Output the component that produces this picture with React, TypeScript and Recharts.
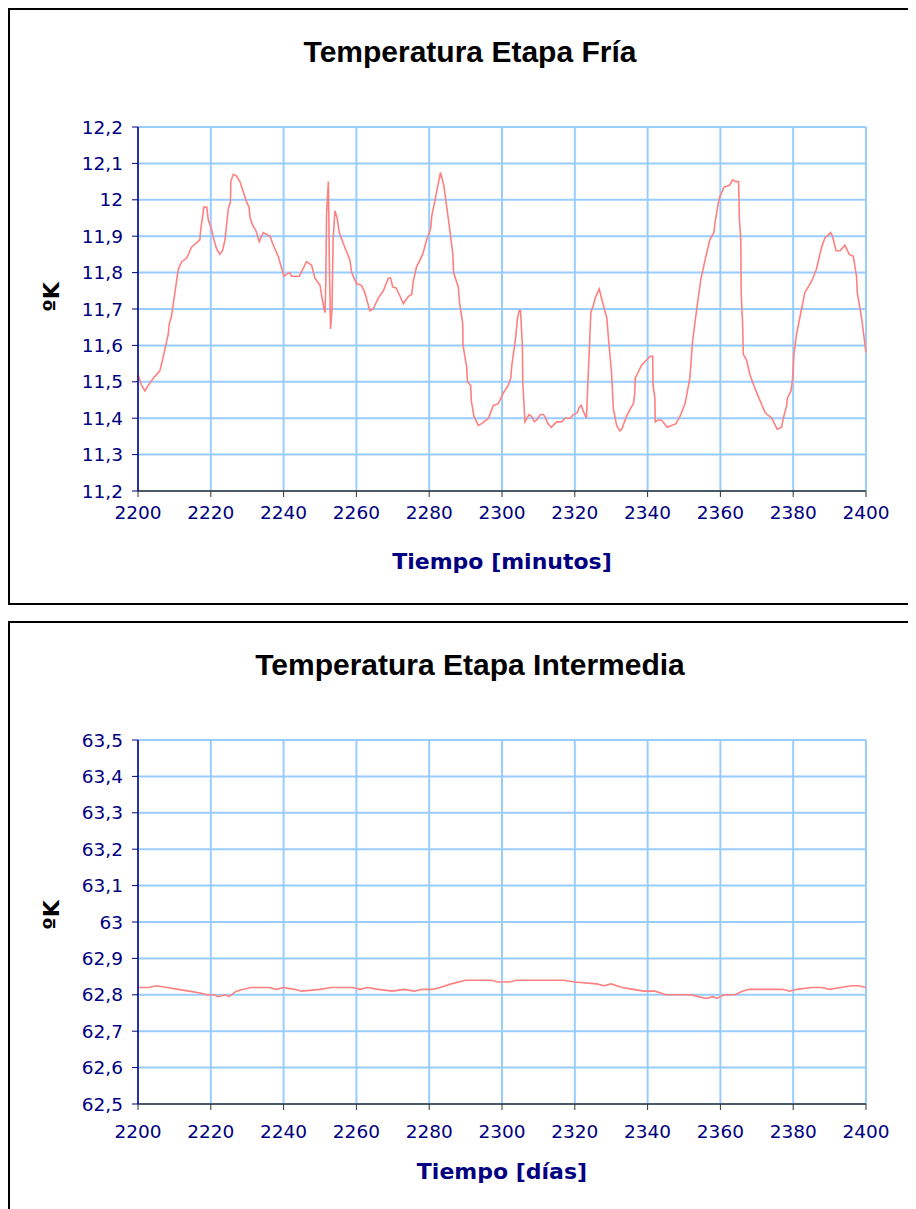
import React from 'react';
import { LineChart, Line, XAxis, YAxis, CartesianGrid } from 'recharts';

// Temperatura Etapa Fría (minutos vs ºK)
const minutosFria = [
  2200.0, 2201.0, 2201.9, 2202.8, 2204.2, 2206.0, 2206.5, 2207.4, 2208.3, 2208.6,
  2209.2, 2210.2, 2211.1, 2212.0, 2213.4, 2214.7, 2217.0, 2217.2, 2218.1, 2218.9,
  2219.3, 2220.2, 2220.6, 2221.6, 2222.5, 2223.2, 2223.9, 2224.8, 2225.4, 2225.5,
  2226.2, 2227.1, 2228.0, 2229.8, 2230.5, 2230.8, 2231.5, 2232.4, 2233.3, 2234.4,
  2236.3, 2237.0, 2238.5, 2240.1, 2240.8, 2241.6, 2242.2, 2244.3, 2246.3, 2247.7,
  2248.6, 2250.0, 2250.4, 2251.1, 2251.4, 2251.6, 2251.8, 2252.3, 2252.6, 2252.9,
  2253.3, 2253.6, 2254.1, 2254.7, 2255.3, 2256.4, 2258.2, 2258.7, 2259.6, 2260.0,
  2261.4, 2262.3, 2263.7, 2264.6, 2266.0, 2267.4, 2268.8, 2269.4, 2270.0, 2270.9,
  2272.0, 2272.9, 2274.3, 2275.2, 2275.6, 2276.5, 2278.2, 2279.3, 2280.4, 2280.7,
  2281.6, 2282.2, 2283.1, 2284.0, 2285.3, 2286.5, 2286.7, 2288.0, 2288.3, 2289.2,
  2289.3, 2290.3, 2290.5, 2291.4, 2291.6, 2292.3, 2293.5, 2294.4, 2296.3, 2297.6,
  2299.0, 2300.4, 2301.7, 2302.4, 2302.7, 2303.8, 2304.2, 2304.7, 2305.1, 2305.6,
  2305.7, 2306.3, 2307.4, 2308.1, 2308.9, 2309.5, 2310.6, 2311.4, 2312.0, 2312.6,
  2313.5, 2315.0, 2316.4, 2317.3, 2318.7, 2319.6, 2320.7, 2321.2, 2321.8, 2322.3,
  2323.2, 2323.6, 2324.0, 2324.4, 2325.1, 2325.6, 2326.7, 2327.6, 2328.8, 2329.2,
  2330.1, 2330.6, 2331.5, 2332.4, 2332.9, 2334.2, 2335.2, 2336.1, 2336.5, 2336.6,
  2338.3, 2340.7, 2341.4, 2341.5, 2342.0, 2342.1, 2342.9, 2343.8, 2345.4, 2346.6,
  2347.8, 2348.9, 2350.3, 2351.6, 2352.4, 2353.5, 2354.6, 2355.8, 2357.1, 2358.2,
  2358.5, 2359.4, 2359.9, 2361.0, 2362.5, 2363.4, 2364.3, 2365.0, 2365.2, 2365.6,
  2365.7, 2366.1, 2366.3, 2367.2, 2368.1, 2369.2, 2370.4, 2372.3, 2374.1, 2375.6,
  2376.8, 2377.3, 2378.2, 2378.4, 2379.4, 2379.8, 2380.2, 2380.9, 2381.9, 2383.2,
  2384.1, 2385.0, 2386.4, 2387.2, 2387.8, 2388.7, 2390.3, 2390.8, 2391.8, 2392.9,
  2394.2, 2395.4, 2396.5, 2397.4, 2397.6, 2398.8, 2400.0,
];
const tempFria = [
  11.52, 11.49, 11.475, 11.49, 11.51, 11.53, 11.55, 11.59, 11.63, 11.66,
  11.68, 11.75, 11.81, 11.83, 11.84, 11.87, 11.89, 11.915, 11.98, 11.98,
  11.945, 11.92, 11.9, 11.865, 11.85, 11.86, 11.89, 11.975, 11.995, 12.05,
  12.07, 12.065, 12.05, 11.995, 11.98, 11.95, 11.93, 11.915, 11.885, 11.91,
  11.9, 11.88, 11.845, 11.79, 11.795, 11.8, 11.79, 11.79, 11.83, 11.82,
  11.785, 11.765, 11.74, 11.7, 11.69, 11.78, 11.96, 12.05, 11.81, 11.645,
  11.7, 11.89, 11.97, 11.95, 11.91, 11.88, 11.835, 11.8, 11.78, 11.77,
  11.765, 11.745, 11.695, 11.7, 11.73, 11.75, 11.785, 11.785, 11.76, 11.758,
  11.735, 11.715, 11.735, 11.74, 11.775, 11.815, 11.85, 11.89, 11.92, 11.955,
  12.0, 12.03, 12.075, 12.04, 11.945, 11.85, 11.8, 11.76, 11.72, 11.66,
  11.6, 11.54, 11.5, 11.49, 11.445, 11.405, 11.38, 11.385, 11.4, 11.435,
  11.44, 11.47, 11.49, 11.51, 11.545, 11.625, 11.67, 11.695, 11.695, 11.6,
  11.5, 11.39, 11.41, 11.405, 11.39, 11.395, 11.41, 11.41, 11.4, 11.385,
  11.375, 11.39, 11.39, 11.4, 11.4, 11.41, 11.415, 11.43, 11.435, 11.42,
  11.4, 11.5, 11.59, 11.69, 11.71, 11.73, 11.755, 11.72, 11.675, 11.625,
  11.525, 11.425, 11.38, 11.365, 11.37, 11.405, 11.425, 11.44, 11.47, 11.51,
  11.545, 11.57, 11.57, 11.49, 11.455, 11.39, 11.395, 11.395, 11.375, 11.38,
  11.385, 11.405, 11.44, 11.51, 11.615, 11.7, 11.78, 11.835, 11.89, 11.91,
  11.935, 11.99, 12.01, 12.035, 12.04, 12.055, 12.05, 12.05, 11.95, 11.89,
  11.745, 11.66, 11.575, 11.56, 11.52, 11.49, 11.46, 11.415, 11.4, 11.37,
  11.375, 11.4, 11.435, 11.455, 11.475, 11.505, 11.575, 11.63, 11.68, 11.745,
  11.76, 11.775, 11.81, 11.845, 11.87, 11.895, 11.91, 11.9, 11.86, 11.86,
  11.875, 11.85, 11.845, 11.79, 11.745, 11.675, 11.58,
];

// Temperatura Etapa Intermedia (días vs ºK)
const diasInter = [
  2200, 2203, 2205, 2208, 2211, 2214, 2217, 2219, 2221, 2222,
  2224, 2225, 2227, 2229, 2231, 2236, 2238, 2240, 2243, 2245,
  2250, 2253, 2259, 2261, 2263, 2266, 2270, 2273, 2276, 2278,
  2281, 2283, 2286, 2290, 2297, 2299, 2302, 2304, 2317, 2320,
  2326, 2328, 2330, 2333, 2336, 2339, 2342, 2345, 2352, 2354,
  2356, 2358, 2359, 2361, 2364, 2366, 2368, 2377, 2379, 2381,
  2385, 2388, 2390, 2393, 2396, 2398, 2400,
];
const tempInter = [
  62.82, 62.82, 62.825, 62.82, 62.815, 62.81, 62.805, 62.8, 62.8, 62.795,
  62.8, 62.795, 62.81, 62.815, 62.82, 62.82, 62.815, 62.82, 62.815, 62.81,
  62.815, 62.82, 62.82, 62.815, 62.82, 62.815, 62.81, 62.815, 62.81, 62.815,
  62.815, 62.82, 62.83, 62.84, 62.84, 62.835, 62.835, 62.84, 62.84, 62.835,
  62.83, 62.825, 62.83, 62.82, 62.815, 62.81, 62.81, 62.8, 62.8, 62.795,
  62.79, 62.795, 62.79, 62.8, 62.8, 62.81, 62.815, 62.815, 62.81, 62.815,
  62.82, 62.82, 62.815, 62.82, 62.825, 62.825, 62.82,
];

const xTicks = [2200, 2220, 2240, 2260, 2280, 2300, 2320, 2340, 2360, 2380, 2400];
const yTicksFria = [11.2, 11.3, 11.4, 11.5, 11.6, 11.7, 11.8, 11.9, 12.0, 12.1, 12.2];
const yTicksInter = [62.5, 62.6, 62.7, 62.8, 62.9, 63.0, 63.1, 63.2, 63.3, 63.4, 63.5];

const NAVY = '#000080';

const fmtComma = (v: number) => String(Math.round(v * 10) / 10).replace('.', ',');

interface PanelProps {
  top: number;
  title: string;
  xTitle: string;
  xs: number[];
  ys: number[];
  yTicks: number[];
  tickGap: number;
  xTitleTop: number;
  kTop: number;
}

function Panel({ top, title, xTitle, xs, ys, yTicks, tickGap, xTitleTop, kTop }: PanelProps) {
  const data = xs.map((x, i) => ({ x, y: ys[i] }));
  const tickStyle = { fill: NAVY, fontSize: 18.5, fontFamily: '"DejaVu Sans", sans-serif' };

  return (
    <div
      style={{
        position: 'absolute',
        left: 0,
        top,
        width: 924,
        height: 597,
        border: '2px solid #000',
        boxSizing: 'border-box',
        background: '#fff',
      }}
    >
      <div
        style={{
          position: 'absolute',
          left: 0,
          top: 25,
          width: '100%',
          textAlign: 'center',
          fontFamily: '"Liberation Sans", Arial, sans-serif',
          fontWeight: 'bold',
          fontSize: 30,
          lineHeight: '34px',
          color: '#000',
        }}
      >
        {title}
      </div>
      <div
        style={{
          position: 'absolute',
          left: 12,
          top: kTop - 15,
          width: 60,
          height: 30,
          lineHeight: '30px',
          textAlign: 'center',
          transform: 'rotate(-90deg)',
          fontFamily: '"DejaVu Sans", sans-serif',
          fontWeight: 'bold',
          fontSize: 22,
          color: '#000',
        }}
      >
        ºK
      </div>
      <div
        style={{
          position: 'absolute',
          left: 128,
          top: xTitleTop,
          width: 728,
          textAlign: 'center',
          fontFamily: '"DejaVu Sans", sans-serif',
          fontWeight: 'bold',
          fontSize: 22,
          lineHeight: '28px',
          color: NAVY,
        }}
      >
        {xTitle}
      </div>
      <LineChart
        width={920}
        height={593}
        data={data}
        margin={{ top: 117, right: 64, left: 48, bottom: 52 }}
      >
        <CartesianGrid stroke="#99CCFF" strokeWidth={2} />
        <XAxis
          dataKey="x"
          type="number"
          domain={[2200, 2400]}
          ticks={xTicks}
          interval={0}
          height={60}
          tick={tickStyle}
          tickSize={6}
          tickMargin={tickGap}
          axisLine={{ stroke: '#333', strokeWidth: 1.5 }}
          tickLine={{ stroke: '#333' }}
        />
        <YAxis
          type="number"
          domain={[yTicks[0], yTicks[yTicks.length - 1]]}
          ticks={yTicks}
          interval={0}
          width={80}
          tick={tickStyle}
          tickFormatter={fmtComma}
          tickSize={6}
          tickMargin={9}
          axisLine={{ stroke: NAVY, strokeWidth: 1.5 }}
          tickLine={{ stroke: NAVY }}
        />
        <Line
          type="linear"
          dataKey="y"
          stroke="#FF8080"
          strokeWidth={1.6}
          dot={false}
          isAnimationActive={false}
        />
      </LineChart>
    </div>
  );
}

export default function App() {
  return (
    <>
      <style>{'html, body { overflow: hidden; }'}</style>
      <div style={{ position: 'relative', width: 908, height: 1201, overflow: 'hidden' }}>
        <Panel
          top={0}
          title="Temperatura Etapa Fría"
          xTitle="Tiempo [minutos]"
          xs={minutosFria}
          ys={tempFria}
          yTicks={yTicksFria}
          tickGap={9}
          xTitleTop={538}
          kTop={287}
        />
        <Panel
          top={613}
          title="Temperatura Etapa Intermedia"
          xTitle="Tiempo [días]"
          xs={diasInter}
          ys={tempInter}
          yTicks={yTicksInter}
          tickGap={15}
          xTitleTop={535}
          kTop={292}
        />
      </div>
    </>
  );
}
